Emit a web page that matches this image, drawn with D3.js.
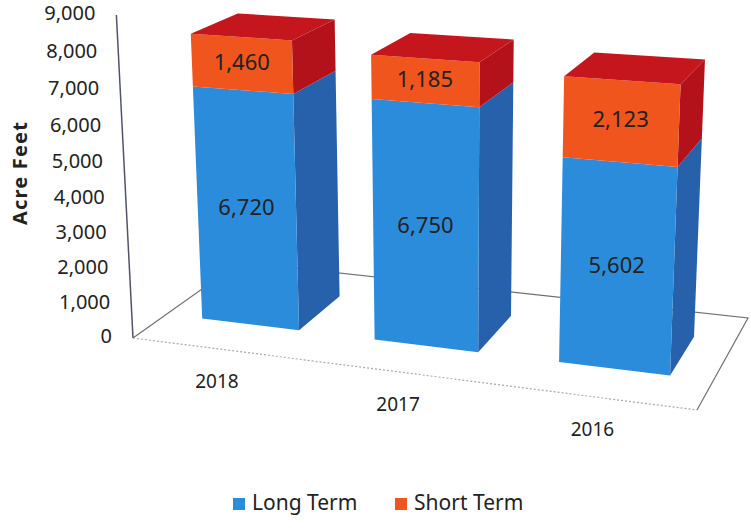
<!DOCTYPE html>
<html>
<head>
<meta charset="utf-8">
<script src="https://cdn.jsdelivr.net/npm/d3@7"></script>
<style>
body { margin: 0; background: #fff; }
text { font-family: "Noto Sans", sans-serif; fill: #222; }
</style>
</head>
<body>
<div id="chart"></div>
<script>
// data
var years = ["2018", "2017", "2016"];
var longTerm = [6720, 6750, 5602];
var shortTerm = [1460, 1185, 2123];
var seriesNames = ["Long Term", "Short Term"];
var yTicks = [0, 1000, 2000, 3000, 4000, 5000, 6000, 7000, 8000, 9000];

var width = 751, height = 529;

// the floor as seen on screen: front-left, front-right, back-right, back-left
var floor = [[133, 338], [697, 410], [748, 318], [240, 262]];
var vp = [450, 6500];      // vertical edges meet down here (camera looks down)
var axisTop = [118, 15];   // top of the value axis

// unit square -> floor quad (projective)
function squareToQuad(q) {
    var x0 = q[0][0], y0 = q[0][1], x1 = q[1][0], y1 = q[1][1],
        x2 = q[2][0], y2 = q[2][1], x3 = q[3][0], y3 = q[3][1];
    var dx1 = x1 - x2, dx2 = x3 - x2, dx3 = x0 - x1 + x2 - x3;
    var dy1 = y1 - y2, dy2 = y3 - y2, dy3 = y0 - y1 + y2 - y3;
    var det = dx1 * dy2 - dx2 * dy1;
    var g = (dx3 * dy2 - dx2 * dy3) / det;
    var h = (dx1 * dy3 - dx3 * dy1) / det;
    return {
        a: x1 - x0 + g * x1, b: x3 - x0 + h * x3, c: x0,
        d: y1 - y0 + g * y1, e: y3 - y0 + h * y3, f: y0,
        g: g, h: h
    };
}
var H = squareToQuad(floor);

var alpha = (axisTop[1] - floor[0][1]) / (vp[1] - floor[0][1]);
var tz = alpha / (1 - alpha);

// u: across, v: depth, h: 0..1 height
function project(u, v, h) {
    var X = H.a * u + H.b * v + H.c,
        Y = H.d * u + H.e * v + H.f,
        W = H.g * u + H.h * v + 1,
        k = tz * h;
    return [(X + k * vp[0]) / (W + k), (Y + k * vp[1]) / (W + k)];
}

var x = d3.scaleBand().domain(years).range([0, 1]).paddingInner(0.43).paddingOuter(0.215);
var y = d3.scaleLinear().domain([0, 9000]).range([0, 1]);
var z0 = 0.29, z1 = 0.72;

var colors = {
    front: ["#2b8cdb", "#ef551d"],
    side: ["#2760ab", "#b3121b"],
    top: ["#3a7fc4", "#c5161d"]
};

var svg = d3.select("#chart").append("svg")
    .attr("width", width)
    .attr("height", height);

// floor
var line = d3.line();
var fl = floor.map((p, i) => project(i == 1 || i == 2 ? 1 : 0, i >= 2 ? 1 : 0, 0));
svg.append("path")
    .attr("d", line([fl[1], fl[2], fl[3], fl[0]]))
    .attr("fill", "none")
    .attr("stroke", "#6f6f6f")
    .attr("stroke-width", 1.2);
svg.append("path")
    .attr("d", line([fl[0], fl[1]]))
    .attr("fill", "none")
    .attr("stroke", "#aaa")
    .attr("stroke-width", 1.2)
    .attr("stroke-dasharray", "2,2");

// value axis line
svg.append("path")
    .attr("d", line([project(0, 0, y(0)), project(0, 0, y(9000))]))
    .attr("fill", "none")
    .attr("stroke", "#4f5567")
    .attr("stroke-width", 1.5);

// tick labels
svg.selectAll("text.ytick")
    .data(yTicks).enter()
    .append("text")
    .attr("class", "ytick")
    .attr("x", d => project(0, 0, y(d))[0] - 21)
    .attr("y", d => project(0, 0, y(d))[1])
    .attr("text-anchor", "end")
    .attr("dominant-baseline", "middle")
    .attr("font-size", 20)
    .text(d => d3.format(",")(d));

// axis title
svg.append("text")
    .attr("transform", "translate(22,173) rotate(-90)")
    .attr("text-anchor", "middle")
    .attr("dominant-baseline", "middle")
    .attr("font-size", 20)
    .attr("font-weight", "bold")
    .attr("letter-spacing", 1.2)
    .text("Acre Feet");

// bars
var table = years.map((yr, i) => ({year: yr, "Long Term": longTerm[i], "Short Term": shortTerm[i]}));
var stacked = d3.stack().keys(seriesNames)(table);

function poly(pts) {
    return "M" + pts.map(p => p.join(",")).join("L") + "Z";
}

years.forEach((yr, i) => {
    var u0 = x(yr), u1 = x(yr) + x.bandwidth();
    var g = svg.append("g");
    stacked.forEach((s, k) => {
        var h0 = y(s[i][0]), h1 = y(s[i][1]);
        g.append("path")
            .attr("d", poly([project(u1, z0, h0), project(u1, z1, h0), project(u1, z1, h1), project(u1, z0, h1)]))
            .attr("fill", colors.side[k]);
        g.append("path")
            .attr("d", poly([project(u0, z0, h0), project(u1, z0, h0), project(u1, z0, h1), project(u0, z0, h1)]))
            .attr("fill", colors.front[k]);
        if (k == stacked.length - 1) {
            g.append("path")
                .attr("d", poly([project(u0, z0, h1), project(u1, z0, h1), project(u1, z1, h1), project(u0, z1, h1)]))
                .attr("fill", colors.top[k]);
        }
        var c = project((u0 + u1) / 2, z0, (h0 + h1) / 2);
        g.append("text")
            .attr("x", c[0])
            .attr("y", c[1])
            .attr("text-anchor", "middle")
            .attr("dominant-baseline", "middle")
            .attr("font-size", 22)
            .text(d3.format(",")(s[i][1] - s[i][0]));
    });
});

// category labels
svg.selectAll("text.xlab")
    .data(years).enter()
    .append("text")
    .attr("class", "xlab")
    .attr("x", d => project(x(d) + x.bandwidth() / 2, 0, 0)[0] - 2)
    .attr("y", d => project(x(d) + x.bandwidth() / 2, 0, 0)[1] + 34)
    .attr("text-anchor", "middle")
    .attr("dominant-baseline", "middle")
    .attr("font-size", 19)
    .text(d => d);

// legend
var legend = svg.append("g").attr("transform", "translate(233,504)");
var lx = [0, 162];
seriesNames.forEach((name, k) => {
    legend.append("rect")
        .attr("x", lx[k])
        .attr("y", -6)
        .attr("width", 12)
        .attr("height", 12)
        .attr("fill", colors.front[k]);
    legend.append("text")
        .attr("x", lx[k] + 19)
        .attr("y", 0)
        .attr("dominant-baseline", "middle")
        .attr("font-size", 21)
        .text(name);
});
</script>
</body>
</html>
